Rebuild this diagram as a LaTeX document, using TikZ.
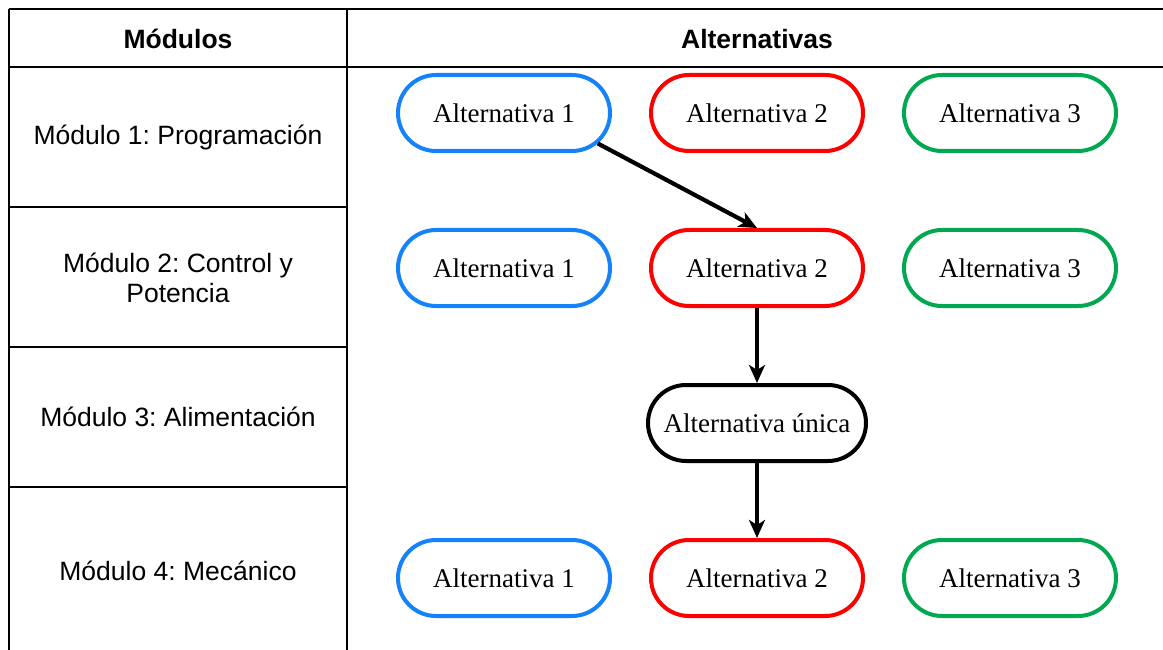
\documentclass[tikz,border=0pt]{standalone}
\usepackage{fontspec}
\setmainfont{Liberation Serif}
\newfontfamily\tablefont{Liberation Sans}
\usetikzlibrary{arrows.meta}
\usetikzlibrary{shapes.misc}
\frenchspacing

\definecolor{altblue}{RGB}{20,130,250}
\definecolor{altred}{RGB}{255,0,0}
\definecolor{altgreen}{RGB}{0,168,80}

\begin{document}
\begin{tikzpicture}[x=1pt,y=-1pt,
        grid/.style={line width=2.8pt},
        modtext/.style={font=\tablefont\fontsize{26.5}{30}\selectfont, align=center},
        alt/.style={rounded rectangle, line width=4pt, minimum width=212pt, minimum height=76pt,
            font=\fontsize{27}{30}\selectfont, inner sep=0pt},
        flow/.style={line width=4.2pt, -{Stealth[length=18pt,width=16pt,inset=5pt]}}]
        \clip (0,0) rectangle (1163,650);
        \fill[white] (0,0) rectangle (1163,650);
        %%% table
        \draw[grid] (9,9) -- (1180,9);
        \draw[grid] (9,67) -- (1180,67);
        \draw[grid] (9,9) -- (9,670);
        \draw[grid] (347,9) -- (347,670);
        \draw[grid] (9,207) -- (347,207);
        \draw[grid] (9,347) -- (347,347);
        \draw[grid] (9,487) -- (347,487);
        \node[modtext, font=\tablefont\bfseries\fontsize{26.5}{30}\selectfont] (hmod) at (178,39) {Módulos};
        \node[modtext, font=\tablefont\bfseries\fontsize{26.5}{30}\selectfont] (halt) at (757,39) {Alternativas};
        \node[modtext] (m1) at (178,137) {Módulo 1: Programación};
        \node[modtext] (m2) at (178,278) {Módulo 2: Control y\\Potencia};
        \node[modtext] (m3) at (178,417) {Módulo 3: Alimentación};
        \node[modtext] (m4) at (178,571) {Módulo 4: Mecánico};
        %%% alternatives
        \node[alt, draw=altblue] (a11) at (504,113) {Alternativa 1};
        \node[alt, draw=altred] (a12) at (757,113) {Alternativa 2};
        \node[alt, draw=altgreen] (a13) at (1010,113) {Alternativa 3};
        \node[alt, draw=altblue] (a21) at (504,268) {Alternativa 1};
        \node[alt, draw=altred] (a22) at (757,268) {Alternativa 2};
        \node[alt, draw=altgreen] (a23) at (1010,268) {Alternativa 3};
        \node[alt, draw=black, minimum width=218pt] (u3) at (757,423) {Alternativa única};
        \node[alt, draw=altblue] (a41) at (504,578) {Alternativa 1};
        \node[alt, draw=altred] (a42) at (757,578) {Alternativa 2};
        \node[alt, draw=altgreen] (a43) at (1010,578) {Alternativa 3};
        %%% path
        \draw[flow] (a11.-18) -- (a22.north);
        \draw[flow] (a22) -- (u3);
        \draw[flow] (u3) -- (a42);
\end{tikzpicture}
\end{document}
